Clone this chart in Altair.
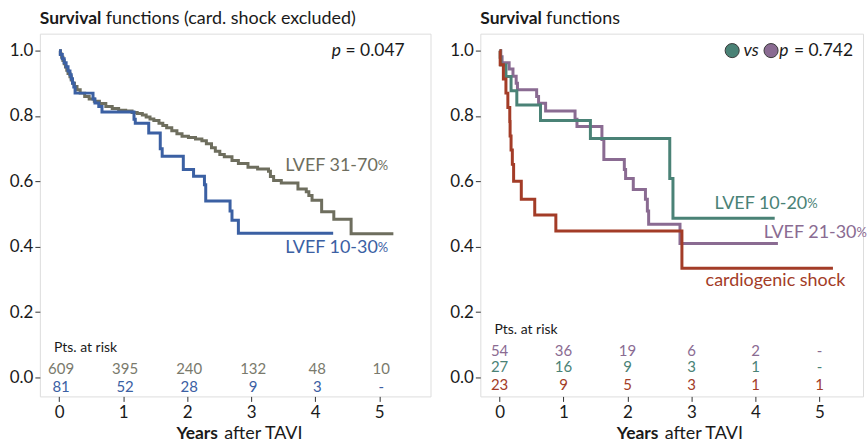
import altair as alt
import pandas as pd

# ---------------- data ----------------
# Left panel (card. shock excluded)
gray_t = [0, 0.02, 0.04, 0.06, 0.08, 0.10, 0.12, 0.14, 0.17, 0.19, 0.21, 0.24, 0.28, 0.33, 0.40,
          0.47, 0.55, 0.63, 0.73, 0.83, 0.93, 1.04, 1.14, 1.22, 1.30, 1.36, 1.42, 1.48, 1.56, 1.62,
          1.68, 1.76, 1.84, 1.92, 2.02, 2.13, 2.23, 2.30, 2.38, 2.44, 2.51, 2.58, 2.70, 2.80, 2.95,
          3.10, 3.27, 3.30, 3.35, 3.47, 3.73, 3.86, 3.90, 3.95, 4.10, 4.29, 4.56, 5.22]
gray_s = [1.0, 0.99, 0.98, 0.97, 0.96, 0.95, 0.94, 0.93, 0.92, 0.91, 0.90, 0.89, 0.88, 0.87, 0.86,
          0.852, 0.845, 0.838, 0.829, 0.823, 0.818, 0.815, 0.811, 0.808, 0.803, 0.797, 0.791, 0.786, 0.778, 0.771,
          0.764, 0.755, 0.746, 0.738, 0.734, 0.730, 0.724, 0.715, 0.703, 0.692, 0.682, 0.675, 0.664, 0.655, 0.643,
          0.638, 0.631, 0.615, 0.603, 0.595, 0.577, 0.568, 0.557, 0.542, 0.507, 0.484, 0.44, 0.44]

blue_t = [0, 0.02, 0.05, 0.08, 0.11, 0.14, 0.17, 0.19, 0.21, 0.23, 0.25, 0.53, 0.56, 0.62, 0.67,
          1.17, 1.19, 1.40, 1.58, 1.61, 1.94, 2.10, 2.27, 2.29, 2.67, 2.70, 2.80, 4.28]
blue_s = [1.0, 0.988, 0.975, 0.963, 0.951, 0.938, 0.926, 0.914, 0.901, 0.889, 0.870, 0.852, 0.840, 0.829, 0.812,
          0.790, 0.778, 0.748, 0.700, 0.677, 0.636, 0.616, 0.590, 0.540, 0.509, 0.481, 0.441, 0.441]

# Right panel
teal_t = [0, 0.01, 0.02, 0.10, 0.18, 0.27, 0.64, 1.42, 2.66, 2.71, 4.30]
teal_s = [1.0, 0.98, 0.956, 0.921, 0.877, 0.834, 0.786, 0.731, 0.609, 0.487, 0.487]

purple_t = [0, 0.02, 0.04, 0.15, 0.21, 0.26, 0.28, 0.58, 0.61, 0.72, 1.18, 1.21, 1.60, 1.63,
            1.95, 1.97, 2.09, 2.28, 2.31, 2.33, 2.82, 4.35]
purple_s = [1.0, 0.981, 0.963, 0.944, 0.922, 0.90, 0.88, 0.86, 0.839, 0.815, 0.79, 0.768, 0.728, 0.667,
            0.636, 0.609, 0.575, 0.545, 0.509, 0.469, 0.41, 0.41]

red_t = [0, 0.01, 0.06, 0.10, 0.13, 0.16, 0.165, 0.18, 0.20, 0.22, 0.34, 0.55, 0.88, 2.85, 5.21]
red_s = [1.0, 0.957, 0.913, 0.87, 0.826, 0.783, 0.739, 0.696, 0.652, 0.60, 0.545, 0.497, 0.448, 0.334, 0.334]

risk_years = [0, 1, 2, 3, 4, 5]
risk_gray = ["609", "395", "240", "132", "48", "10"]
risk_blue = ["81", "52", "28", "9", "3", "-"]
risk_purple = ["54", "36", "19", "6", "2", "-"]
risk_teal = ["27", "16", "9", "3", "1", "-"]
risk_red = ["23", "9", "5", "3", "1", "1"]

x_ticks = [0, 1, 2, 3, 4, 5]
y_ticks = [0.0, 0.2, 0.4, 0.6, 0.8, 1.0]

# ---------------- styles ----------------
FONT = "Lato"
GRAY = "#6e6e5e"
GRAY_T = "#7a7a6c"
BLUE = "#3b60a3"
TEAL = "#4a8276"
PURPLE = "#8a6b92"
RED = "#a33c27"
INK = "#1a1a1a"

H = 364
W_L = 392
W_R = 384
ys = alt.Scale(domain=[-0.058, 1.052], nice=False, zero=False)
xs_l = alt.Scale(domain=[-0.3, 5.8], nice=False, zero=False)
xs_r = alt.Scale(domain=[-0.3, 5.68], nice=False, zero=False)

x_axis = alt.Axis(values=x_ticks, format="d", title=None, grid=False, domain=False,
                  tickSize=5, labelPadding=3, labelFontSize=17, labelColor=INK, tickColor="#333")
y_axis = alt.Axis(values=y_ticks, format=".1f", title=None, grid=False, domain=False,
                  tickSize=5, labelPadding=2, labelFontSize=17, labelColor=INK, tickColor="#333")


def curve(ts, ss, color, xs):
    df = pd.DataFrame({"t": ts, "s": ss})
    return alt.Chart(df).mark_line(interpolate="step-after", strokeWidth=3, color=color).encode(
        x=alt.X("t:Q", scale=xs, axis=x_axis),
        y=alt.Y("s:Q", scale=ys, axis=y_axis),
    )


def dtext(t, s, text, color, size, xs, align="left", style="normal", weight="normal", dx=0):
    df = pd.DataFrame({"t": [t], "s": [s], "lab": [text]})
    return alt.Chart(df).mark_text(align=align, baseline="middle", fontSize=size, color=color,
                                   fontStyle=style, fontWeight=weight, dx=dx, font=FONT).encode(
        x=alt.X("t:Q", scale=xs, axis=x_axis), y=alt.Y("s:Q", scale=ys, axis=y_axis), text="lab:N")


def ptext(px, py, text, color, size, align="left", style="normal", weight="normal"):
    df = pd.DataFrame({"lab": [text]})
    return alt.Chart(df).mark_text(align=align, baseline="middle", fontSize=size, color=color,
                                   fontStyle=style, fontWeight=weight, font=FONT).encode(
        x=alt.value(px), y=alt.value(py), text="lab:N")


def risk_row(labels, s, color, xs, dx=0):
    df = pd.DataFrame({"t": risk_years, "s": [s] * len(risk_years), "lab": labels})
    return alt.Chart(df).mark_text(align="center", baseline="middle", fontSize=15, color=color,
                                   dx=dx, font=FONT).encode(
        x=alt.X("t:Q", scale=xs, axis=x_axis), y=alt.Y("s:Q", scale=ys, axis=y_axis), text="lab:N")


def circle(px, py, color):
    df = pd.DataFrame({"k": [1]})
    return alt.Chart(df).mark_point(filled=True, shape="circle", size=200, color=color,
                                    stroke="#3a3a3a", strokeWidth=1, opacity=1).encode(
        x=alt.value(px), y=alt.value(py))


# ---------------- left panel ----------------
left = alt.layer(
    curve(gray_t, gray_s, GRAY, xs_l),
    curve(blue_t, blue_s, BLUE, xs_l),
    ptext(0, -15, "Survival", INK, 17.5, weight="bold"),
    ptext(66, -15, "functions (card. shock excluded)", INK, 18),
    ptext(293, 17, "p", INK, 17.5, style="italic"),
    ptext(366, 17, "= 0.047", INK, 17.5, align="right"),
    dtext(3.53, 0.646, "LVEF 31-70", GRAY, 18, xs_l),
    dtext(3.53, 0.646, "%", GRAY, 13, xs_l, dx=93),
    dtext(3.53, 0.397, "LVEF 10-30", BLUE, 18, xs_l),
    dtext(3.53, 0.397, "%", BLUE, 13, xs_l, dx=93),
    dtext(-0.08, 0.091, "Pts. at risk", INK, 14, xs_l),
    risk_row(risk_gray, 0.026, GRAY_T, xs_l, dx=2),
    risk_row(risk_blue, -0.030, BLUE, xs_l, dx=2),
    ptext(137, 401.5, "Years", INK, 17.5, weight="bold"),
    ptext(185, 401.5, "after TAVI", INK, 18),
).properties(width=W_L, height=H)

# ---------------- right panel ----------------
right = alt.layer(
    curve(purple_t, purple_s, PURPLE, xs_r),
    curve(teal_t, teal_s, TEAL, xs_r),
    curve(red_t, red_s, RED, xs_r),
    ptext(0, -15, "Survival", INK, 17.5, weight="bold"),
    ptext(66, -15, "functions", INK, 18),
    circle(252.7, 17, TEAL),
    ptext(264, 17, "vs", INK, 17.5, style="italic"),
    circle(291.7, 17, PURPLE),
    ptext(300, 17, "p", INK, 17.5, style="italic"),
    ptext(374, 17, "= 0.742", INK, 17.5, align="right"),
    dtext(3.36, 0.53, "LVEF 10-20", TEAL, 18, xs_r),
    dtext(3.36, 0.53, "%", TEAL, 13, xs_r, dx=93),
    dtext(4.13, 0.443, "LVEF 21-30", PURPLE, 18, xs_r),
    dtext(4.13, 0.443, "%", PURPLE, 13, xs_r, dx=93),
    dtext(3.22, 0.296, "cardiogenic shock", RED, 18, xs_r),
    dtext(-0.08, 0.145, "Pts. at risk", INK, 14, xs_r),
    risk_row(risk_purple, 0.082, PURPLE, xs_r),
    risk_row(risk_teal, 0.031, TEAL, xs_r),
    risk_row(risk_red, -0.024, RED, xs_r),
    ptext(137, 401.5, "Years", INK, 17.5, weight="bold"),
    ptext(185, 401.5, "after TAVI", INK, 18),
).properties(width=W_R, height=H)

chart = alt.hconcat(left, right, spacing=17).properties(
    padding={"left": 8, "top": 8, "right": 0, "bottom": 0},
    background="white",
).configure_view(
    fill="#ebeae4", stroke="#4d4d4d", strokeWidth=1.5
).configure(font=FONT)

chart.save("out.html", embed_options={"renderer": "svg", "actions": False})
